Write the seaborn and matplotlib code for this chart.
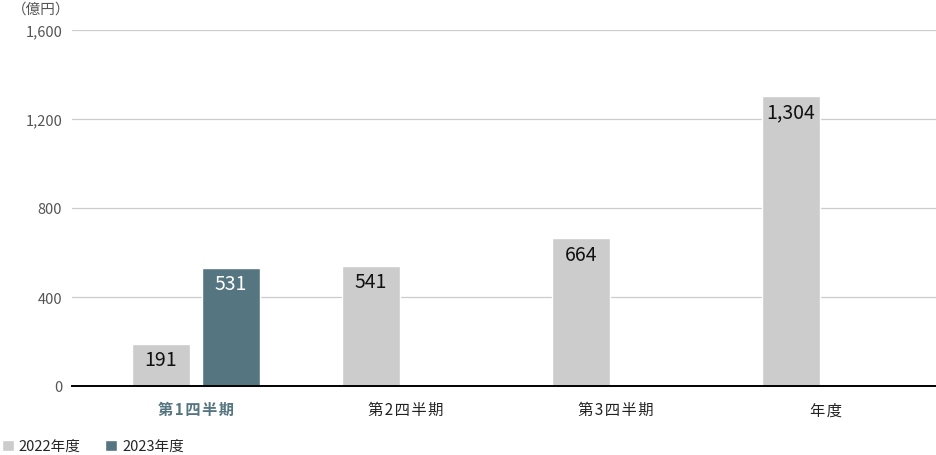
import pandas as pd
import numpy as np
import matplotlib
matplotlib.use('Agg')
import matplotlib.pyplot as plt
import seaborn as sns
from matplotlib.patches import Patch

# chart data
categories = ['第1四半期', '第2四半期', '第3四半期', '年度']
series_names = ['2022年度', '2023年度']
values_2022 = [191, 541, 664, 1304]
values_2023 = [531, np.nan, np.nan, np.nan]
y_ticks = [0, 400, 800, 1200, 1600]
unit_label = '（億円）'

colors = {'2022年度': '#cccccc', '2023年度': '#557580'}

df = pd.DataFrame({
    'category': categories * 2,
    'year': [series_names[0]] * 4 + [series_names[1]] * 4,
    'value': values_2022 + values_2023,
})

sns.set_style('white')
plt.rcParams['font.family'] = ['Noto Sans CJK JP', 'DejaVu Sans']

fig = plt.figure(figsize=(9.36, 4.56), dpi=100)
ax = fig.add_axes([72 / 936, 1 - 387 / 456, 1 - 72 / 936, (387 - 31) / 456])

sns.barplot(data=df, x='category', y='value', hue='year', order=categories,
            hue_order=series_names, palette=colors, width=0.667, gap=0.17,
            errorbar=None, saturation=1, ax=ax, legend=False)

ax.set_xlim(-0.59, 3.524)
ax.set_ylim(0, 1600)
ax.set_yticks(y_ticks)
ax.set_yticklabels([f'{v:,}' for v in y_ticks])
# slightly spaced-out category labels like the original
ax.set_xticks(range(len(categories)))
ax.set_xticklabels(['\u200a'.join(c) for c in categories])
ax.yaxis.grid(True, color='#cccccc', linewidth=0.9)
ax.set_axisbelow(True)
ax.set_xlabel('')
ax.set_ylabel('')
for s in ['top', 'right', 'left']:
    ax.spines[s].set_visible(False)
ax.spines['bottom'].set_color('black')
ax.spines['bottom'].set_linewidth(1.4)
ax.spines['bottom'].set_zorder(5)
ax.tick_params(axis='y', length=0, pad=7, labelsize=10.5, labelcolor='#555555')
ax.tick_params(axis='x', length=0, pad=11, labelsize=11, labelcolor='#222222')
first = ax.get_xticklabels()[0]
first.set_color('#557580')
first.set_fontweight('bold')

# value labels inside bar tops
for container, name in zip(ax.containers, series_names):
    for patch in container:
        h = patch.get_height()
        if np.isnan(h) or h == 0:
            continue
        ax.annotate(f'{int(h):,}', (patch.get_x() + patch.get_width() / 2, h),
                    xytext=(0, -4), textcoords='offset points', ha='center', va='top',
                    fontsize=14, color='white' if name == '2023年度' else '#111111')

fig.text(12 / 936, 1 - 10 / 456, unit_label, fontsize=10.5, color='#555555', va='center', ha='left')

handles = [Patch(facecolor=colors[n], label=n) for n in series_names]
fig.legend(handles=handles, loc='lower left', bbox_to_anchor=(-0.012, -0.025), ncol=2,
           frameon=False, fontsize=10.5, handlelength=0.8, handleheight=0.8,
           handletextpad=0.35, columnspacing=1.7)

fig.savefig('out.png', dpi=100)
